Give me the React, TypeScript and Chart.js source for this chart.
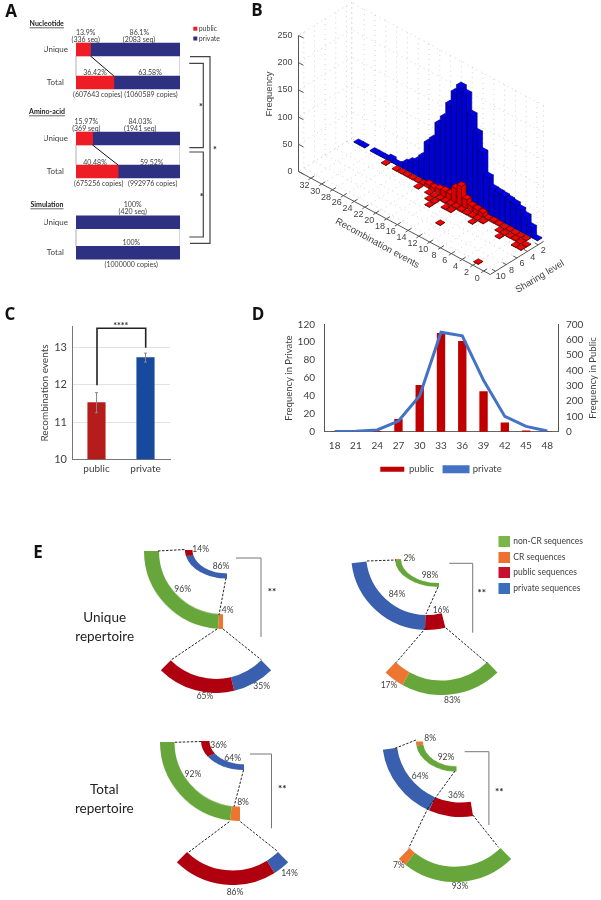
import React, { useEffect, useRef } from "react";
import { Chart, registerables } from "chart.js";
Chart.register(...registerables);

const SANS = "Lato";
const ARIAL = "'Liberation Sans'";
const INK = "#404040";

// Panel A
const rowLabels = ["Unique", "Total"];
const nucleotidePublic = [13.9, 36.42];
const nucleotidePrivate = [86.1, 63.58];
const aminoPublic = [15.97, 40.48];
const aminoPrivate = [84.03, 59.52];
const simulationPublic = [0, 0];
const simulationPrivate = [100, 100];

// Panel B
const privateSharing1 = [1, 18, 33, 40, 45, 47, 49, 50, 51, 68, 108, 138, 166, 199, 207, 190, 163, 133, 116, 83, 70, 40, 27, 20, 12, 2, 1, 5, 1, 1, 1, 0, 1, 1];
const publicSharing2 = [0, 1, 1, 1, 2, 1, 2, 3, 2, 8, 9, 10, 17, 36, 27, 11, 11, 9, 6, 7, 2, 1, 1, 1, 1, 1, 0, 1];
const publicSharing3 = [1, 1, 2, 1, 1, 1, 0, 0, 1, 2, 2, 1, 2, 3, 3, 2, 2, 1, 1, 0, 1];
const publicSharing4 = [1, 1, 0, 0, 1, 0, 0, 0, 0, 1, 0, 0, 0, 1, 1, 0, 1, 1];
const publicSharing5 = [0, 0, 0, 0, 0, 0, 0, 0, 0, 0, 0, 0, 0, 0, 0, 0, 1];
const publicSharing7 = [0, 0, 0, 0, 0, 0, 0, 0, 0, 0, 0, 0, 1];
const publicSharing10 = [0, 0, 1];
const recTicks = [0, 2, 4, 6, 8, 10, 12, 14, 16, 18, 20, 22, 24, 26, 28, 30, 32];
const shareTicks = [2, 4, 6, 8, 10];
const freqTicks = [0, 50, 100, 150, 200, 250];

// Panel C
const groupLabels = ["public", "private"];
const groupMeans = [11.52, 12.73];
const groupErrors = [0.27, 0.12];

// Panel D
const lengthLabels = ["18", "21", "24", "27", "30", "33", "36", "39", "42", "45", "48"];
const publicFrequency = [0, 0, 0.5, 14, 52, 110, 101, 45, 10, 1, 0];
const privateFrequency = [2, 3, 12, 70, 235, 648, 625, 335, 100, 35, 5];

// Panel E
const C_G = "#66a63b", C_O = "#ed7530", C_R = "#b0000f", C_B = "#3a5fae";
const uniqueLeftBig = [4, 96], uniqueLeftTop = [86, 14], uniqueLeftBottom = [35, 65];
const uniqueRightBig = [16, 84], uniqueRightTop = [98, 2], uniqueRightBottom = [83, 17];
const totalLeftBig = [8, 92], totalLeftTop = [64, 36], totalLeftBottom = [14, 86];
const totalRightBig = [36, 64], totalRightTop = [92, 8], totalRightBottom = [93, 7];

const ARCS = [
  { v: uniqueLeftBig, c: [C_O, C_G], cx: 223, cy: 551, rx: 79, ry: 78, t: 15, rot: 180, sw: 90 },
  { v: uniqueLeftTop, c: [C_B, C_R], cx: 227, cy: 549.5, rx: 42, ry: 28.5, t: 7.5, rot: 180, sw: 90 },
  { v: uniqueLeftBottom, c: [C_B, C_R], cx: 216, cy: 615, rx: 78, ry: 78, t: 14, rot: 135, sw: 90 },
  { v: uniqueRightBig, c: [C_R, C_B], cx: 427, cy: 554, rx: 76, ry: 76, t: 15, rot: 166, sw: 97 },
  { v: uniqueRightTop, c: [C_G, C_O], cx: 439, cy: 559, rx: 44, ry: 28, t: 6, rot: 180, sw: 90 },
  { v: uniqueRightBottom, c: [C_G, C_O], cx: 441, cy: 614, rx: 80.5, ry: 80.5, t: 14.5, rot: 136, sw: 88 },
  { v: totalLeftBig, c: [C_O, C_G], cx: 240, cy: 742, rx: 80, ry: 79, t: 14.5, rot: 180, sw: 90 },
  { v: totalLeftTop, c: [C_B, C_R], cx: 243.5, cy: 741, rx: 43, ry: 29, t: 8.5, rot: 180, sw: 90 },
  { v: totalLeftBottom, c: [C_B, C_R], cx: 232.4, cy: 805.6, rx: 79.5, ry: 79.5, t: 14.5, rot: 135.6, sw: 88.8 },
  { v: totalRightBig, c: [C_R, C_B], cx: 460.5, cy: 738, rx: 78.5, ry: 78.5, t: 14.5, rot: 170.8, sw: 91 },
  { v: totalRightTop, c: [C_G, C_O], cx: 456.5, cy: 741, rx: 40.5, ry: 30, t: 7, rot: 180, sw: 90 },
  { v: totalRightBottom, c: [C_G, C_O], cx: 455, cy: 802, rx: 79.7, ry: 79.7, t: 15, rot: 135.4, sw: 89.2 },
];

type TextItem = [string, number, number, number?, string?];
// annotation texts: text, x, y, font size, weight/alignment
const PANEL_LETTERS: [string, number, number][] = [["A", 11, 12], ["B", 257, 11], ["C", 10, 315], ["D", 258, 315], ["E", 38, 553]];
const A_TEXTS: TextItem[] = [
  ["13.9%", 85.7, 33], ["(336 seq)", 85.7, 39.5], ["86.1%", 139.3, 32.5], ["(2083 seq)", 139, 39.5],
  ["36.42%", 95, 72.7], ["63.58%", 150, 72.7], ["(607643 copies)", 97.7, 94.3], ["(1060589 copies)", 151, 94.3],
  ["15.97%", 86.3, 121.3], ["(369 seq)", 86.3, 128.7], ["84.03%", 140.3, 121.3], ["(1941 seq)", 140.3, 128.7],
  ["40.48%", 95, 162.3], ["59.52%", 151.7, 162.3], ["(675256 copies)", 98.7, 183.7], ["(992976 copies)", 152.7, 183.7],
  ["100%", 132.7, 204.7], ["(420 seq)", 132.7, 212], ["100%", 131.3, 242.3], ["(1000000 copies)", 131.3, 264.7],
];
const A_TITLES: [string, number, number][] = [["Nucleotide", 46.7, 23.3], ["Amino-acid", 47, 111.3], ["Simulation", 47, 204.3]];
const E_TEXTS: [string, number, number][] = [
  ["14%", 200.7, 549.3], ["86%", 221, 566], ["96%", 182.7, 589], ["4%", 227.7, 610], ["65%", 205, 696], ["35%", 261.7, 686.7],
  ["2%", 409.3, 558.7], ["98%", 430, 575.7], ["84%", 397, 594], ["16%", 441, 610], ["17%", 389, 685.7], ["83%", 452.3, 700.7],
  ["36%", 218.6, 745], ["64%", 232.7, 758.3], ["92%", 192.9, 774], ["8%", 243, 802.7], ["14%", 289.5, 873.3], ["86%", 235, 892],
  ["8%", 430.2, 738.7], ["92%", 446, 757.3], ["64%", 420.2, 776], ["36%", 456.3, 795], ["7%", 398.8, 865.7], ["93%", 460, 886.7],
];
const E_STARS: [number, number][] = [[272, 592], [481.7, 593], [282.2, 789], [499.2, 792]];
const E_DASHES: number[][] = [
  [158, 551, 185, 549.5], [226, 578, 219, 615], [217, 629, 171, 660], [223, 629, 261.5, 660],
  [367, 561, 396, 560], [438, 587, 426, 614], [425.7, 628, 396, 662.7], [446, 628, 486.7, 662.7],
  [174.8, 742.3, 201, 741.5], [243.5, 770, 234, 806.7], [229.3, 821.7, 187.9, 852.7], [240.4, 821.7, 278, 851.7],
  [395, 748.3, 416, 740], [455, 771, 428, 808], [428, 808, 408.5, 848.3], [472.8, 815, 498.5, 847.3],
];
const E_BRACKETS: number[][] = [
  [236, 558, 261, 558, 261, 637], [449.3, 563.3, 472.7, 563.3, 472.7, 632.7],
  [250, 754, 271.5, 754, 271.5, 828.3], [464.7, 751.7, 488.9, 751.7, 488.9, 825],
];
const E_LEGEND: [string, string, number][] = [
  ["non-CR sequences", "#7ab648", 536], ["CR sequences", "#ee7030", 552], ["public sequences", "#c8102e", 567], ["private sequences", "#3a6dbb", 583],
];
const A_BRACKETS: number[][] = [
  [190, 56.7, 210, 56.7, 210, 243.3, 190, 243.3],
  [189.3, 63.3, 203.3, 63.3, 203.3, 147.7, 189.3, 147.7],
  [189.3, 152, 203.3, 152, 203.3, 237, 189.3, 237],
];
const A_STARS: [number, number][] = [[215, 149], [201, 106], [201.7, 195.5]];

function poly(ctx: any, pts: number[][]) {
  ctx.beginPath();
  pts.forEach((p, i) => (i ? ctx.lineTo(p[0], p[1]) : ctx.moveTo(p[0], p[1])));
}

const noPad = (s: any) => {
  s.paddingTop = 0;
  s.paddingBottom = 0;
  s.paddingLeft = 0;
  s.paddingRight = 0;
};

const overlayPlugin = {
  id: "overlay",
  afterDraw(chart: any) {
    const ctx = chart.ctx;
    ctx.save();
    ctx.textBaseline = "middle";
    ctx.textAlign = "center";
    const label = (t: string, x: number, y: number, font: string, color = INK) => {
      ctx.font = font;
      ctx.fillStyle = color;
      ctx.fillText(t, x, y);
    };
    PANEL_LETTERS.forEach(([t, x, y]) => label(t, x, y, `bold 17px 'Open Sans'`, "#111"));
    A_TEXTS.forEach(([t, x, y]) => label(t, x, y, `7px ${SANS}`));
    A_TITLES.forEach(([t, x, y]) => {
      label(t, x, y, `bold 7px ${SANS}`, "#222");
      const w = ctx.measureText(t).width;
      ctx.strokeStyle = "#222";
      ctx.lineWidth = 0.7;
      ctx.beginPath();
      ctx.moveTo(x - w / 2, y + 4.5);
      ctx.lineTo(x + w / 2, y + 4.5);
      ctx.stroke();
    });
    ctx.fillStyle = "#ee1c25";
    ctx.fillRect(193.3, 26.7, 4, 4);
    ctx.fillStyle = "#2e3082";
    ctx.fillRect(193.3, 36.5, 4, 4);
    ctx.textAlign = "left";
    label("public", 198.7, 29, `7px ${SANS}`);
    label("private", 198.7, 38.3, `7px ${SANS}`);
    ctx.textAlign = "center";
    ctx.strokeStyle = "#444";
    ctx.lineWidth = 1.2;
    A_BRACKETS.forEach((b) => {
      ctx.beginPath();
      ctx.moveTo(b[0], b[1]);
      for (let i = 2; i < b.length; i += 2) ctx.lineTo(b[i], b[i + 1]);
      ctx.stroke();
    });
    A_STARS.forEach(([x, y]) => label("*", x, y + 1.5, `bold 9px ${SANS}`, "#222"));

    // Panel C bracket
    ctx.strokeStyle = "#222";
    ctx.lineWidth = 1.6;
    ctx.beginPath();
    ctx.moveTo(97, 385.3);
    ctx.lineTo(97, 328.3);
    ctx.lineTo(145.7, 328.3);
    ctx.lineTo(145.7, 347.7);
    ctx.stroke();
    label("****", 120.8, 326, `bold 9px ${SANS}`, "#333");

    // Panel D right title
    ctx.save();
    ctx.translate(593, 378);
    ctx.rotate(-Math.PI / 2);
    label("Frequency in Public", 0, 0, `9.5px ${SANS}`);
    ctx.restore();

    // Panel E
    label("Unique", 104.7, 618, `13.5px ${SANS}`, "#222");
    label("repertoire", 104.7, 636.7, `13.5px ${SANS}`, "#222");
    label("Total", 104.3, 789.3, `13.5px ${SANS}`, "#222");
    label("repertoire", 104.3, 808.3, `13.5px ${SANS}`, "#222");
    E_TEXTS.forEach(([t, x, y]) => label(t, x, y, `8.5px ${SANS}`));
    E_STARS.forEach(([x, y]) => label("**", x, y, `bold 10px ${SANS}`, "#222"));
    ctx.strokeStyle = "#222";
    ctx.lineWidth = 1;
    ctx.setLineDash([2.5, 1.5]);
    E_DASHES.forEach((d) => {
      ctx.beginPath();
      ctx.moveTo(d[0], d[1]);
      ctx.lineTo(d[2], d[3]);
      ctx.stroke();
    });
    ctx.setLineDash([]);
    ctx.strokeStyle = "#777";
    ctx.lineWidth = 1;
    E_BRACKETS.forEach((b) => {
      ctx.beginPath();
      ctx.moveTo(b[0], b[1]);
      ctx.lineTo(b[2], b[3]);
      ctx.lineTo(b[4], b[5]);
      ctx.stroke();
    });
    E_LEGEND.forEach(([t, col, y]) => {
      ctx.fillStyle = col;
      ctx.fillRect(498.5, y, 11.5, 11);
      ctx.textAlign = "left";
      label(t, 513.3, y + 5.5, `8.5px ${SANS}`);
    });
    ctx.restore();
  },
};

const connectorPlugin = {
  id: "connector",
  afterDatasetsDraw(chart: any) {
    const { ctx, scales } = chart;
    const pub = chart.data.datasets[0].data;
    const y0 = scales.y.getPixelForValue(0) + 6.5;
    const y1 = scales.y.getPixelForValue(1) - 6.5;
    ctx.save();
    ctx.strokeStyle = "#8a8a9a";
    ctx.lineWidth = 0.7;
    [scales.x.left, scales.x.right].forEach((x: number) => {
      ctx.beginPath();
      ctx.moveTo(x, y0);
      ctx.lineTo(x, y1);
      ctx.stroke();
    });
    if (pub[0] > 0) {
      ctx.strokeStyle = "#111";
      ctx.lineWidth = 1;
      ctx.beginPath();
      ctx.moveTo(scales.x.getPixelForValue(pub[0]), y0);
      ctx.lineTo(scales.x.getPixelForValue(pub[1]), y1);
      ctx.stroke();
    }
    ctx.restore();
  },
};

function stackConfig(pub: number[], priv: number[]) {
  return {
    type: "bar",
    data: {
      labels: rowLabels,
      datasets: [
        { label: "public", data: pub, backgroundColor: pub.map((v) => (v > 0 ? "#ee1c25" : "rgba(0,0,0,0)")), barThickness: 13 },
        { label: "private", data: priv, backgroundColor: "#2e3082", barThickness: 13 },
      ],
    },
    options: {
      indexAxis: "y",
      layout: { autoPadding: false },
      plugins: { legend: { display: false }, tooltip: { enabled: false } },
      scales: {
        x: { stacked: true, display: false, min: 0, max: 100 },
        y: {
          stacked: true,
          grid: { display: false, drawTicks: false },
          border: { display: false },
          afterFit: (s: any) => { s.width = 32; noPad(s); },
          ticks: { crossAlign: "center", font: { family: SANS, size: 8 }, color: INK, padding: 8 },
        },
      },
    },
    plugins: [connectorPlugin],
  };
}

// Panel B projection, px per full scale of each axis
const REC_MIN = -1.2, REC_MAX = 34.3, SH_MIN = 1, SH_MAX = 11;
const CORNER = [543.5, 241.5];
const REC_VEC = [-191.7, -103];
const SH_VEC = [-53.3, 33];
const Z_VEC = [0, -136];

function toPoints(row: number[], share: number) {
  return row.map((f, r) => ({ x: r, y: f, s: share })).filter((p) => p.y > 0);
}

const bar3dPlugin = {
  id: "bar3d",
  afterDatasetsDraw(chart: any) {
    const { ctx, scales } = chart;
    const P = (r: number, s: number, f: number) => {
      const tr = (scales.x.getPixelForValue(r) - scales.x.left) / scales.x.width;
      const ts = (scales.sh.getPixelForValue(s) - scales.sh.left) / scales.sh.width;
      const tz = (scales.y.bottom - scales.y.getPixelForValue(f)) / scales.y.height;
      return [
        CORNER[0] + tr * REC_VEC[0] + ts * SH_VEC[0] + tz * Z_VEC[0],
        CORNER[1] + tr * REC_VEC[1] + ts * SH_VEC[1] + tz * Z_VEC[1],
      ];
    };
    const line = (a: number[], b: number[]) => {
      ctx.beginPath();
      ctx.moveTo(a[0], a[1]);
      ctx.lineTo(b[0], b[1]);
      ctx.stroke();
    };
    ctx.save();
    ctx.strokeStyle = "#c8c8c8";
    ctx.lineWidth = 0.8;
    ctx.setLineDash([1, 4]);
    const rGrid = recTicks.concat([REC_MAX]);
    rGrid.forEach((r) => {
      line(P(r, SH_MIN, 0), P(r, SH_MIN, 250));
      line(P(r, SH_MIN, 0), P(r, SH_MAX, 0));
    });
    shareTicks.forEach((s) => {
      line(P(REC_MIN, s, 0), P(REC_MAX, s, 0));
      line(P(REC_MAX, s, 0), P(REC_MAX, s, 250));
    });
    freqTicks.forEach((f) => {
      line(P(REC_MIN, SH_MIN, f), P(REC_MAX, SH_MIN, f));
      line(P(REC_MAX, SH_MIN, f), P(REC_MAX, SH_MAX, f));
    });
    line(P(REC_MIN, SH_MIN, 0), P(REC_MIN, SH_MIN, 250));
    line(P(REC_MAX, SH_MIN, 0), P(REC_MAX, SH_MIN, 250));
    ctx.setLineDash([]);

    const bars: any[] = [];
    chart.data.datasets.forEach((ds: any) => {
      ds.data.forEach((d: any) => bars.push({ ...d, style: ds.barStyle, order: P(d.x, d.s, 0)[1] }));
    });
    bars.sort((a, b) => a.order - b.order);
    bars.forEach((b) => {
      const hr = b.style.hr, hs = b.style.hs;
      const A = (dr: number, ds: number, f: number) => P(b.x + dr * hr, b.s + ds * hs, f);
      ctx.strokeStyle = b.style.edge;
      ctx.lineWidth = 0.6;
      poly(ctx, [A(-1, -1, 0), A(-1, 1, 0), A(-1, 1, b.y), A(-1, -1, b.y)]);
      ctx.closePath();
      ctx.fillStyle = b.style.right;
      ctx.fill();
      ctx.stroke();
      poly(ctx, [A(-1, 1, 0), A(1, 1, 0), A(1, 1, b.y), A(-1, 1, b.y)]);
      ctx.closePath();
      ctx.fillStyle = b.style.left;
      ctx.fill();
      ctx.stroke();
      poly(ctx, [A(-1, -1, b.y), A(-1, 1, b.y), A(1, 1, b.y), A(1, -1, b.y)]);
      ctx.closePath();
      ctx.fillStyle = b.style.top;
      ctx.fill();
      ctx.stroke();
    });

    // axes
    ctx.strokeStyle = "#555";
    ctx.lineWidth = 1;
    line(P(REC_MAX, SH_MAX, 0), P(REC_MAX, SH_MAX, 250));
    line(P(REC_MAX, SH_MAX, 0), P(REC_MIN, SH_MAX, 0));
    line(P(REC_MIN, SH_MAX, 0), P(REC_MIN, SH_MIN, 0));
    ctx.fillStyle = "#444";
    ctx.font = `9px ${ARIAL}`;
    ctx.textBaseline = "middle";
    ctx.textAlign = "right";
    freqTicks.forEach((f) => {
      const p = P(REC_MAX, SH_MAX, f);
      line(p, [p[0] + 5, p[1] + 2.6]);
      ctx.fillText(String(f), p[0] - 6, p[1]);
    });
    ctx.textAlign = "center";
    recTicks.forEach((r) => {
      const p = P(r, SH_MAX, 0);
      line(p, [p[0] + 3.5, p[1] - 2.2]);
      line(p, [p[0] - 2.5, p[1] + 1.6]);
      ctx.fillText(String(r), p[0] - 6.5, p[1] + 7.4);
    });
    shareTicks.forEach((s) => {
      const p = P(REC_MIN, s, 0);
      line(p, [p[0] - 3.5, p[1] - 1.9]);
      ctx.fillText(String(s), p[0] + 5.2, p[1] + 5.8);
    });
    const rotated = (t: string, x: number, y: number, deg: number, size: number) => {
      ctx.save();
      ctx.translate(x, y);
      ctx.rotate((deg * Math.PI) / 180);
      ctx.font = `${size}px ${ARIAL}`;
      ctx.fillText(t, 0, 0);
      ctx.restore();
    };
    rotated("Recombination events", 377.3, 243.3, 28.7, 9.5);
    rotated("Sharing level", 540, 276.7, -31, 9.5);
    rotated("Frequency", 269, 94, -90, 9.5);
    ctx.restore();
  },
};

const barErrorPlugin = {
  id: "barError",
  afterDatasetsDraw(chart: any) {
    const { ctx, scales } = chart;
    ctx.save();
    ctx.strokeStyle = "#888";
    ctx.lineWidth = 1;
    groupMeans.forEach((m, i) => {
      const x = scales.x.getPixelForValue(i);
      const hi = scales.y.getPixelForValue(m + groupErrors[i]);
      const lo = scales.y.getPixelForValue(m - groupErrors[i]);
      ctx.beginPath();
      ctx.moveTo(x, hi);
      ctx.lineTo(x, lo);
      ctx.moveTo(x - 1.5, hi);
      ctx.lineTo(x + 1.5, hi);
      ctx.moveTo(x - 1.5, lo);
      ctx.lineTo(x + 1.5, lo);
      ctx.stroke();
    });
    ctx.restore();
  },
};

const font11 = { family: SANS, size: 11 };
const font10 = { family: SANS, size: 10 };
const font95 = { family: SANS, size: 9.5 };

const configB = {
  type: "scatter",
  data: {
    datasets: [
      {
        label: "private",
        data: toPoints(privateSharing1, 1),
        pointRadius: 0,
        xAxisID: "x",
        yAxisID: "y",
        barStyle: { hr: 0.5, hs: 0.42, top: "#0000ff", right: "#0000e6", left: "#0000d2", edge: "#00005a" },
      },
      {
        label: "public",
        data: [
          ...toPoints(publicSharing2, 2), ...toPoints(publicSharing3, 3), ...toPoints(publicSharing4, 4),
          ...toPoints(publicSharing5, 5), ...toPoints(publicSharing7, 7), ...toPoints(publicSharing10, 10),
        ],
        pointRadius: 0,
        xAxisID: "x",
        yAxisID: "y",
        barStyle: { hr: 0.42, hs: 0.42, top: "#ff0000", right: "#ee0000", left: "#dd0000", edge: "#500000" },
      },
    ],
  },
  options: {
    layout: { autoPadding: false },
    plugins: { legend: { display: false }, tooltip: { enabled: false } },
    scales: {
      x: { type: "linear", display: false, min: REC_MIN, max: REC_MAX },
      sh: { type: "linear", axis: "x", display: false, min: SH_MIN, max: SH_MAX },
      y: { type: "linear", display: false, min: 0, max: 250 },
    },
  },
  plugins: [bar3dPlugin],
};

const configC = {
  type: "bar",
  data: {
    labels: groupLabels,
    datasets: [{ label: "Recombination events", data: groupMeans, backgroundColor: ["#b71c1c", "#174a9c"], barThickness: 17.5 }],
  },
  options: {
    layout: { autoPadding: false, padding: { top: 6.7, right: 5 } },
    plugins: { legend: { display: false }, tooltip: { enabled: false } },
    scales: {
      x: {
        grid: { display: false, drawTicks: false },
        border: { color: "#777" },
        afterFit: (s: any) => { s.height = 15.7; noPad(s); },
        ticks: { font: font10, color: INK, padding: 3 },
      },
      y: {
        min: 10,
        max: 13.56,
        grid: { color: "#e2e2e2", drawTicks: false },
        border: { color: "#777" },
        afterFit: (s: any) => { s.width = 42; noPad(s); },
        ticks: { stepSize: 1, includeBounds: false, font: font11, color: INK, padding: 5 },
        title: { display: true, text: "Recombination events", font: font10, color: INK, padding: { top: 9, bottom: 0 } },
      },
    },
  },
  plugins: [barErrorPlugin],
};

const configD = {
  type: "bar",
  data: {
    labels: lengthLabels,
    datasets: [
      { type: "bar", label: "public", data: publicFrequency, backgroundColor: "#c00000", barThickness: 7.7, yAxisID: "yL", order: 2 },
      { type: "line", label: "private", data: privateFrequency, borderColor: "#4472c4", backgroundColor: "#4472c4", borderWidth: 3, pointRadius: 0, tension: 0, yAxisID: "yR", order: 1 },
    ],
  },
  options: {
    layout: { autoPadding: false, padding: { top: 12.3 } },
    plugins: {
      tooltip: { enabled: false },
      legend: {
        position: "bottom",
        labels: {
          boxWidth: 24,
          boxHeight: 5,
          padding: 10,
          color: INK,
          font: font95,
          sort: (a: any, b: any) => a.datasetIndex - b.datasetIndex,
        },
      },
    },
    scales: {
      x: {
        grid: { display: false, drawTicks: false },
        border: { color: "#666" },
        afterFit: (s: any) => { s.height = 22.7; noPad(s); },
        ticks: { font: font10, color: INK, padding: 8, autoSkip: false, maxRotation: 0 },
      },
      yL: {
        position: "left",
        min: 0,
        max: 120,
        grid: { display: false, drawTicks: false },
        border: { color: "#555" },
        afterFit: (s: any) => { s.width = 43; noPad(s); },
        ticks: { stepSize: 20, autoSkip: false, font: font10, color: INK, padding: 9 },
        title: { display: true, text: "Frequency in Private", font: font95, color: INK, padding: { top: 2, bottom: 0 } },
      },
      yR: {
        position: "right",
        min: 0,
        max: 700,
        grid: { display: false, drawTicks: false },
        border: { color: "#555" },
        afterFit: (s: any) => { s.width = 43; noPad(s); },
        ticks: { stepSize: 100, autoSkip: false, font: font10, color: INK, padding: 8 },
      },
    },
  },
};

function arcConfig(a: any) {
  const total = a.v.reduce((x: number, y: number) => x + y, 0);
  return {
    type: "doughnut",
    data: {
      datasets: [{
        data: [...a.v, (total * (360 - a.sw)) / a.sw],
        backgroundColor: [...a.c, "rgba(0,0,0,0)"],
        borderWidth: 0,
      }],
    },
    options: {
      rotation: a.rot,
      circumference: 360,
      cutout: a.rx - a.t,
      plugins: { legend: { display: false }, tooltip: { enabled: false } },
    },
  };
}

const configOverlay = {
  type: "scatter",
  data: { datasets: [] },
  options: {
    plugins: { legend: { display: false }, tooltip: { enabled: false } },
    scales: { x: { display: false }, y: { display: false } },
  },
  plugins: [overlayPlugin],
};

function Panel({ left, top, width, height, config, scaleY }: any) {
  const ref = useRef<HTMLCanvasElement>(null);
  useEffect(() => {
    const merged = {
      ...config,
      options: { ...config.options, responsive: false, maintainAspectRatio: false, animation: false, devicePixelRatio: 1 },
    };
    const chart = new Chart(ref.current as any, merged as any);
    return () => chart.destroy();
  }, []);
  return (
    <canvas
      ref={ref}
      width={width}
      height={height}
      style={{
        position: "absolute",
        left,
        top,
        width,
        height,
        transform: scaleY ? `scaleY(${scaleY})` : undefined,
        transformOrigin: "center",
      }}
    />
  );
}

export default function App() {
  return (
    <div style={{ position: "absolute", left: 0, top: 0, width: 601, height: 900, overflow: "hidden", background: "#fff" }}>
      <Panel left={44} top={33} width={136} height={66} config={stackConfig(nucleotidePublic, nucleotidePrivate)} />
      <Panel left={44} top={122} width={136} height={66} config={stackConfig(aminoPublic, aminoPrivate)} />
      <Panel left={44} top={207} width={136} height={61} config={stackConfig(simulationPublic, simulationPrivate)} />
      <Panel left={0} top={0} width={601} height={300} config={configB} />
      <Panel left={30} top={320} width={145} height={155} config={configC} />
      <Panel left={281} top={312} width={320} height={172} config={configD} />
      {ARCS.map((a, i) => {
        const size = Math.ceil(a.rx * 2);
        return (
          <Panel
            key={i}
            left={Math.round(a.cx - size / 2)}
            top={Math.round(a.cy - size / 2)}
            width={size}
            height={size}
            scaleY={a.ry !== a.rx ? a.ry / a.rx : undefined}
            config={arcConfig(a)}
          />
        );
      })}
      <Panel left={0} top={0} width={601} height={900} config={configOverlay} />
    </div>
  );
}
